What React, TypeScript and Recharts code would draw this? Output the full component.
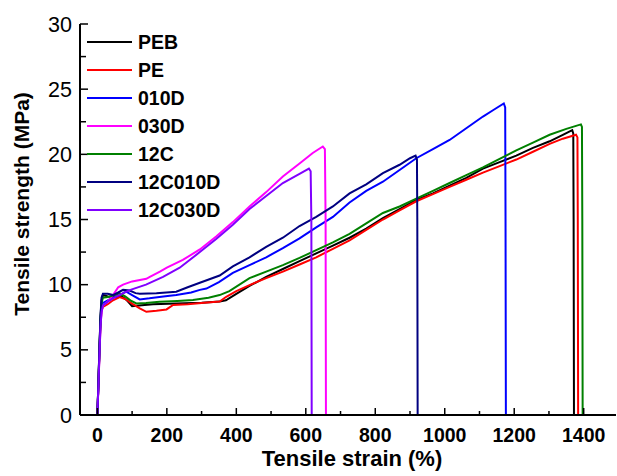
import React from 'react';
import { LineChart, Line, XAxis, YAxis, Legend } from 'recharts';

type P = [number, number];

const PEB: P[] = [
  [0, 0], [3, 2.5], [6, 5.2], [9, 7.5], [12, 8.8], [16, 9.2], [30, 9.1], [50, 9.05], [70, 9.1], [85, 8.8],
  [100, 8.35], [120, 8.4], [160, 8.5], [227, 8.56], [300, 8.62], [352, 8.7], [370, 8.8], [400, 9.3],
  [438, 9.9], [486, 10.6], [534, 11.2], [582, 11.8], [630, 12.4], [678, 13.0], [726, 13.6], [774, 14.3],
  [822, 15.1], [870, 15.8], [918, 16.5], [966, 17.0], [1014, 17.6], [1062, 18.2], [1110, 18.9],
  [1158, 19.4], [1206, 19.9], [1254, 20.5], [1302, 21.0], [1340, 21.5], [1367, 21.85], [1370, 21.6],
  [1371, 15], [1372, 0],
];

const PE: P[] = [
  [0, 0], [3, 2.3], [6, 4.8], [9, 7.0], [12, 8.0], [16, 8.3], [30, 8.5], [45, 8.8], [64, 9.05], [80, 8.9],
  [100, 8.55], [122, 8.18], [141, 7.92], [170, 8.0], [199, 8.1], [218, 8.44], [260, 8.5], [300, 8.6],
  [352, 8.7], [371, 9.07], [400, 9.5], [438, 9.97], [486, 10.5], [534, 11.0], [582, 11.55], [630, 12.1],
  [678, 12.75], [726, 13.4], [774, 14.2], [822, 15.0], [870, 15.7], [918, 16.4], [966, 16.95],
  [1014, 17.5], [1062, 18.05], [1110, 18.6], [1158, 19.1], [1206, 19.6], [1254, 20.2], [1302, 20.8],
  [1340, 21.2], [1378, 21.5], [1382, 21.3], [1383, 15], [1384, 0],
];

const D010: P[] = [
  [0, 0], [3, 2.4], [6, 5.0], [9, 7.2], [12, 8.3], [16, 8.6], [30, 8.8], [45, 9.0], [64, 9.2], [83, 9.46],
  [100, 9.2], [122, 8.87], [150, 8.95], [190, 9.1], [227, 9.2], [270, 9.4], [295, 9.6], [314, 9.7],
  [350, 10.2], [390, 10.9], [438, 11.5], [486, 12.1], [534, 12.8], [582, 13.55], [630, 14.4],
  [678, 15.2], [726, 16.3], [774, 17.2], [822, 17.9], [870, 18.8], [918, 19.7], [966, 20.4],
  [1014, 21.1], [1062, 22.0], [1110, 22.9], [1140, 23.4], [1170, 23.9], [1174, 23.6], [1175, 15], [1176, 0],
];

const D030: P[] = [
  [0, 0], [3, 2.2], [6, 4.6], [9, 6.8], [12, 7.9], [16, 8.4], [30, 8.7], [45, 9.2], [60, 9.8], [74, 10.0],
  [100, 10.25], [141, 10.45], [151, 10.6], [180, 11.0], [200, 11.3], [246, 11.9], [295, 12.7],
  [342, 13.7], [390, 14.8], [438, 16.0], [486, 17.1], [534, 18.3], [582, 19.3], [620, 20.1],
  [649, 20.6], [655, 20.4], [657, 15], [658, 0],
];

const C12: P[] = [
  [0, 0], [3, 2.4], [6, 5.0], [9, 7.3], [12, 8.6], [16, 9.0], [30, 9.05], [50, 9.2], [64, 9.33], [80, 9.1],
  [95, 8.8], [112, 8.56], [140, 8.6], [179, 8.69], [230, 8.75], [275, 8.82], [320, 9.0], [352, 9.2],
  [380, 9.5], [438, 10.5], [486, 11.0], [534, 11.5], [582, 12.05], [630, 12.65], [678, 13.25],
  [726, 13.9], [774, 14.7], [822, 15.5], [870, 16.0], [918, 16.6], [966, 17.2], [1014, 17.8],
  [1062, 18.4], [1110, 19.0], [1158, 19.65], [1206, 20.3], [1254, 20.9], [1302, 21.5], [1350, 21.95],
  [1392, 22.3], [1395, 22.1], [1396, 15], [1397, 0],
];

const C12D010: P[] = [
  [0, 0], [3, 2.5], [6, 5.2], [9, 7.6], [12, 9.0], [16, 9.3], [30, 9.3], [45, 9.2], [60, 9.4], [74, 9.6],
  [93, 9.55], [110, 9.35], [122, 9.3], [170, 9.35], [227, 9.46], [260, 9.8], [295, 10.15], [352, 10.7],
  [390, 11.4], [438, 12.1], [486, 12.9], [534, 13.6], [582, 14.5], [630, 15.2], [678, 16.0],
  [726, 17.0], [774, 17.7], [822, 18.55], [870, 19.2], [900, 19.7], [916, 19.9], [920, 19.6],
  [921, 15], [922, 0],
];

const C12D030: P[] = [
  [0, 0], [3, 2.2], [6, 4.6], [9, 6.8], [12, 7.9], [16, 8.4], [30, 8.7], [45, 8.95], [70, 9.3],
  [93, 9.58], [140, 10.0], [189, 10.6], [237, 11.3], [295, 12.5], [342, 13.5], [390, 14.6],
  [438, 15.8], [486, 16.8], [534, 17.8], [582, 18.5], [609, 18.9], [614, 18.7], [616, 15], [617, 0],
];

const seriesNames = ['PEB', 'PE', '010D', '030D', '12C', '12C010D', '12C030D'];
const seriesColors = ['#000000', '#ff0000', '#0000ff', '#ff00ff', '#008000', '#000080', '#8000ff'];
const seriesData = [PEB, PE, D010, D030, C12, C12D010, C12D030];

const xTicks = [0, 100, 200, 300, 400, 500, 600, 700, 800, 900, 1000, 1100, 1200, 1300, 1400];
const yTicks = [0, 2.5, 5, 7.5, 10, 12.5, 15, 17.5, 20, 22.5, 25, 27.5, 30];

const FONT = '"Liberation Sans", Arial, Helvetica, sans-serif';

const toPts = (a: P[]) => a.map(([x, y]) => ({ x, y }));

const XTick = (props: any) => {
  const { x, y, payload } = props;
  const v = payload.value as number;
  const major = v % 200 === 0;
  return (
    <g>
      <line x1={x} x2={x} y1={y} y2={y - (major ? 7 : 4)} stroke="#000" strokeWidth={1.5} />
      {major && (
        <text x={x} y={y + 27} textAnchor="middle" fontSize={19.5} fontWeight="bold" fontFamily={FONT} fill="#000">
          {v}
        </text>
      )}
    </g>
  );
};

const YTick = (props: any) => {
  const { x, y, payload } = props;
  const v = payload.value as number;
  const major = v % 5 === 0;
  return (
    <g>
      <line x1={x} x2={x + (major ? 8 : 6)} y1={y} y2={y} stroke="#000" strokeWidth={1.5} />
      {major && (
        <text x={x - 8} y={y + 7.5} textAnchor="end" fontSize={21.5} fontFamily={FONT} fill="#000">
          {v}
        </text>
      )}
    </g>
  );
};

const XTitle = (props: any) => {
  const vb = props.viewBox || {};
  const cx = vb.x + vb.width / 2 + 4;
  return (
    <text x={cx} y={vb.y + 50.5} textAnchor="middle" fontSize={22} fontWeight="bold" fontFamily={FONT} fill="#000">
      Tensile strain (%)
    </text>
  );
};

const YTitle = () => {
  const cx = 29;
  const cy = 204;
  return (
    <text
      x={cx}
      y={cy}
      transform={`rotate(-90, ${cx}, ${cy})`}
      textAnchor="middle"
      fontSize={21}
      fontWeight="bold"
      fontFamily={FONT}
      fill="#000"
    >
      Tensile strength (MPa)
    </text>
  );
};

const renderLegend = () => (
  <div style={{ fontFamily: FONT }}>
    {seriesNames.map((n, i) => (
      <div key={n} style={{ display: 'flex', alignItems: 'center', height: 28.05 }}>
        <svg width={45} height={4} style={{ display: 'block' }}>
          <line x1={0} x2={45} y1={2} y2={2} stroke={seriesColors[i]} strokeWidth={2} />
        </svg>
        <span style={{ marginLeft: 6, fontSize: 19.5, fontWeight: 'bold', color: '#000', lineHeight: '28px' }}>{n}</span>
      </div>
    ))}
  </div>
);

export default function App() {
  return (
    <div style={{ position: 'absolute', left: 0, top: 0, background: '#fff' }}>
      <LineChart width={617} height={476} margin={{ top: 24, right: 1, bottom: 0, left: 0 }}>
        <XAxis
          dataKey="x"
          type="number"
          domain={[-50, 1493]}
          ticks={xTicks}
          allowDataOverflow
          height={61}
          tickSize={0}
          tickMargin={0}
          tickLine={false}
          tick={<XTick />}
          axisLine={{ stroke: '#000', strokeWidth: 2 }}
          label={<XTitle />}
          interval={0}
        />
        <XAxis
          xAxisId="top"
          orientation="top"
          dataKey="x"
          type="number"
          domain={[-50, 1493]}
          height={0}
          tick={false}
          tickLine={false}
          axisLine={{ stroke: '#000', strokeWidth: 2 }}
        />
        <YAxis
          type="number"
          domain={[0, 30]}
          ticks={yTicks}
          width={80}
          tickSize={0}
          tickMargin={0}
          tickLine={false}
          tick={<YTick />}
          axisLine={{ stroke: '#000', strokeWidth: 2 }}
          label={<YTitle />}
          interval={0}
        />
        <YAxis
          yAxisId="right"
          orientation="right"
          type="number"
          domain={[0, 30]}
          width={0}
          tick={false}
          tickLine={false}
          axisLine={{ stroke: '#cfcfcf', strokeWidth: 1 }}
        />
        <Legend
          layout="vertical"
          align="center"
          verticalAlign="middle"
          content={renderLegend}
          wrapperStyle={{ left: 87, top: 28, width: 200, height: 200 }}
        />
        {seriesData.map((d, i) => (
          <Line
            key={seriesNames[i]}
            name={seriesNames[i]}
            data={toPts(d)}
            dataKey="y"
            type="linear"
            stroke={seriesColors[i]}
            strokeWidth={2}
            dot={false}
            activeDot={false}
            isAnimationActive={false}
          />
        ))}
      </LineChart>
    </div>
  );
}
